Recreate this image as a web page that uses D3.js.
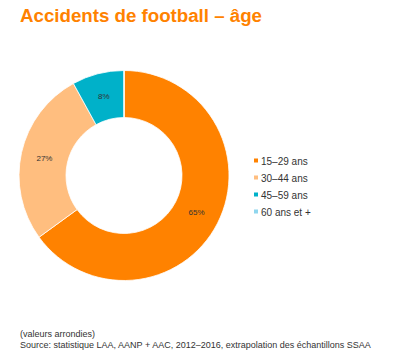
<!DOCTYPE html>
<meta charset="utf-8">
<style>
  body { margin: 0; background: #fff; }
  text { font-family: "Liberation Sans", Arial, sans-serif; }
</style>
<body>
<div id="chart"></div>
<script src="https://d3js.org/d3.v7.min.js"></script>
<script>
  // data
  var categories = ["15–29 ans", "30–44 ans", "45–59 ans", "60 ans et +"];
  var shares = [65, 27, 8, 0];
  var colours = ["#ff8200", "#ffbe7f", "#00b1c9", "#8fd6ee"];

  var width = 400, height = 362;

  var svg = d3.select("#chart")
    .append("svg")
    .attr("width", width)
    .attr("height", height);

  // title
  svg.append("text")
    .attr("x", 20)
    .attr("y", 22)
    .attr("font-size", 18.7)
    .attr("font-weight", "bold")
    .attr("fill", "#ff8200")
    .text("Accidents de football – âge");

  var color = d3.scaleOrdinal().domain(categories).range(colours);

  var pie = d3.pie()
    .sort(null)
    .value(function (d) { return d.value; });

  var arc = d3.arc()
    .innerRadius(58)
    .outerRadius(105);

  var rows = categories.map(function (c, i) { return { name: c, value: shares[i] }; });

  var g = svg.append("g")
    .attr("transform", "translate(124,175.5)");

  g.selectAll("path")
    .data(pie(rows))
    .enter()
    .append("path")
    .attr("d", arc)
    .attr("fill", function (d) { return color(d.data.name); })
    .attr("stroke", "#fff")
    .attr("stroke-width", 0.8);

  g.selectAll("text")
    .data(pie(rows).filter(function (d) { return d.data.value > 0; }))
    .enter()
    .append("text")
    .attr("transform", function (d) { return "translate(" + arc.centroid(d) + ")"; })
    .attr("text-anchor", "middle")
    .attr("dy", "0.35em")
    .attr("font-size", 8)
    .attr("fill", "#333")
    .text(function (d) { return d.data.value + "%"; });

  // legend
  var legend = svg.append("g")
    .attr("transform", "translate(254,161)");

  var item = legend.selectAll("g")
    .data(categories)
    .enter()
    .append("g")
    .attr("transform", function (d, i) { return "translate(0," + (i * 17) + ")"; });

  item.append("rect")
    .attr("x", 0)
    .attr("y", -2.5)
    .attr("width", 4)
    .attr("height", 4)
    .attr("fill", function (d) { return color(d); });

  item.append("text")
    .attr("x", 7)
    .attr("dy", "0.35em")
    .attr("font-size", 10)
    .attr("fill", "#333")
    .text(function (d) { return d; });

  // notes
  svg.append("text")
    .attr("x", 20)
    .attr("y", 337)
    .attr("font-size", 9)
    .attr("fill", "#333")
    .text("(valeurs arrondies)");

  svg.append("text")
    .attr("x", 20)
    .attr("y", 348)
    .attr("font-size", 9)
    .attr("fill", "#333")
    .text("Source: statistique LAA, AANP + AAC, 2012–2016, extrapolation des échantillons SSAA");
</script>
</body>
